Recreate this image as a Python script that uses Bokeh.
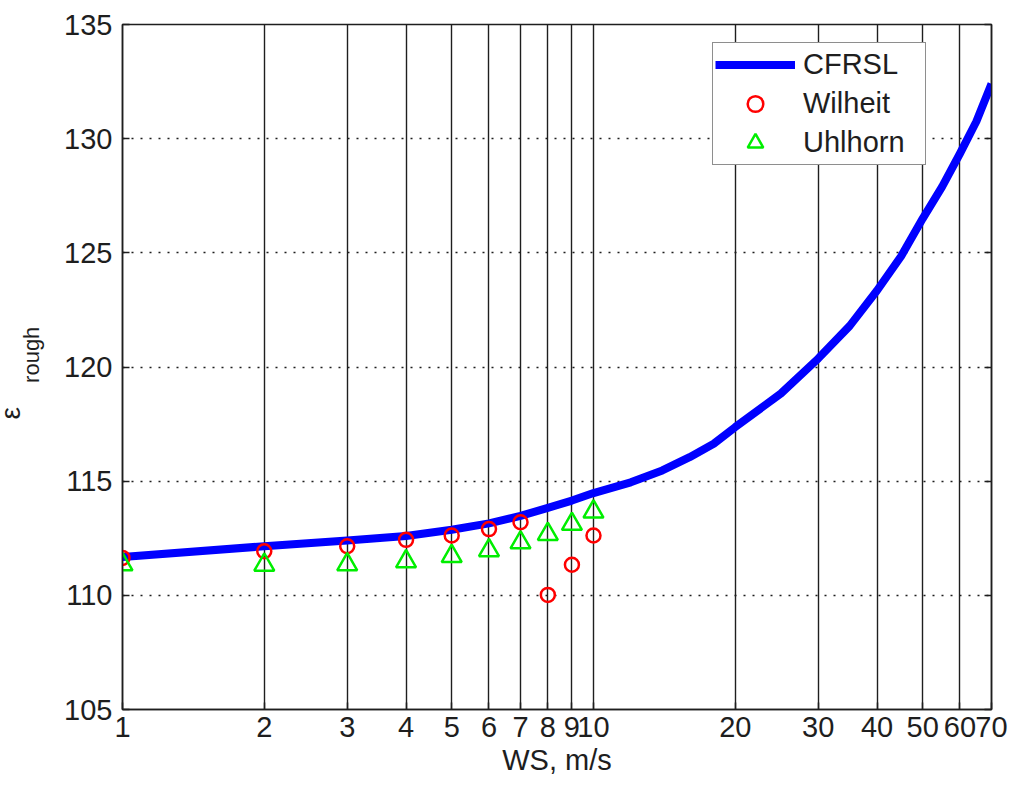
from bokeh.plotting import figure
from bokeh.models import (FixedTicker, LinearAxis, Legend, LegendItem, Title,
                          PrintfTickFormatter)
from bokeh.embed import file_html
from bokeh.resources import INLINE

# CFRSL rough-surface permittivity versus wind speed
ws_curve = [1, 2, 3, 4, 5, 6, 7, 8, 9, 10, 12, 14, 16, 18, 20,
            25, 30, 35, 40, 45, 50, 55, 60, 65, 70]
eps_cfrsl = [111.68, 112.15, 112.40, 112.60, 112.87, 113.15, 113.48, 113.83,
             114.15, 114.48, 114.95, 115.47, 116.05, 116.64, 117.37,
             118.84, 120.37, 121.80, 123.35, 124.85, 126.50, 127.90,
             129.35, 130.75, 132.40]

# Point comparisons at 1..10 m/s
ws_pts = [1, 2, 3, 4, 5, 6, 7, 8, 9, 10]
eps_wilheit = [111.64, 111.93, 112.15, 112.43, 112.62, 112.90, 113.20,
               110.02, 111.34, 112.62]
eps_uhlhorn = [111.35, 111.33, 111.35, 111.48, 111.71, 111.97, 112.31,
               112.68, 113.12, 113.66]

x_ticks = [1, 2, 3, 4, 5, 6, 7, 8, 9, 10, 20, 30, 40, 50, 60, 70]
y_ticks = [105, 110, 115, 120, 125, 130, 135]

FONT = "Liberation Sans"
INK = "#1e1e1e"

p = figure(frame_width=869, frame_height=685,
           x_axis_type="log", x_range=(1, 70), y_range=(105, 135),
           output_backend="svg", toolbar_location=None,
           min_border_left=122, min_border_right=19,
           min_border_top=24, min_border_bottom=80,
           background_fill_color="white", border_fill_color="white")

p.outline_line_color = INK
p.outline_line_width = 1.5

# axes
xa = p.xaxis[0]
xa.ticker = FixedTicker(ticks=x_ticks)
xa.formatter = PrintfTickFormatter(format="%d")
xa.axis_label = "WS, m/s"
ya = p.yaxis[0]
ya.ticker = FixedTicker(ticks=y_ticks)
# subscript part of the y label; leading no-break spaces lift it a little
ya.axis_label = "\u00a0\u00a0\u00a0\u00a0rough"
for ax in (xa, ya):
    ax.major_tick_in = 7
    ax.major_tick_out = 0
    ax.minor_tick_line_color = None
    ax.axis_line_color = INK
    ax.axis_line_width = 1.5
    ax.major_tick_line_color = INK
    ax.major_tick_line_width = 1.5
    ax.major_label_text_font = FONT
    ax.major_label_text_font_size = "29px"
    ax.major_label_text_color = INK
    ax.axis_label_text_font = FONT
    ax.axis_label_text_font_size = "29px"
    ax.axis_label_text_font_style = "normal"
    ax.axis_label_text_color = INK
xa.major_label_standoff = 7
xa.axis_label_standoff = 4
ya.major_label_standoff = 10
ya.axis_label_text_font_size = "22px"
ya.axis_label_standoff = 17

ra = LinearAxis(ticker=FixedTicker(ticks=y_ticks), major_tick_in=7,
                major_tick_out=0, minor_tick_line_color=None,
                axis_line_color=INK, axis_line_width=1.5,
                major_tick_line_color=INK, major_tick_line_width=1.5,
                major_label_text_color=None, major_label_standoff=0)
p.add_layout(ra, "right")

# epsilon, outside the subscript
p.add_layout(Title(text="\u03b5", align="left", offset=290,
                   text_font=FONT, text_font_size="28px",
                   text_font_style="normal", text_color=INK,
                   standoff=-18), "left")

# grid: solid verticals, dotted horizontals
p.xgrid.ticker = FixedTicker(ticks=x_ticks)
p.xgrid.grid_line_color = INK
p.xgrid.grid_line_width = 1.4
p.xgrid.grid_line_alpha = 1.0
p.ygrid.ticker = FixedTicker(ticks=y_ticks)
p.ygrid.grid_line_color = INK
p.ygrid.grid_line_width = 1.5
p.ygrid.grid_line_alpha = 1.0
p.ygrid.grid_line_dash = "2 7"

r_cfrsl = p.line(ws_curve, eps_cfrsl, line_color="#0000ff", line_width=8,
                 line_join="round")
r_wil = p.scatter(ws_pts, eps_wilheit, marker="circle", size=14,
                  fill_color=None, line_color="#ff0000", line_width=2.5)
r_uhl = p.scatter(ws_pts, eps_uhlhorn, marker="triangle", size=20,
                  fill_color=None, line_color="#00ee00", line_width=2.5)

legend = Legend(items=[LegendItem(label="CFRSL", renderers=[r_cfrsl]),
                       LegendItem(label="Wilheit", renderers=[r_wil]),
                       LegendItem(label="Uhlhorn", renderers=[r_uhl])],
                location=(590, 544), orientation="vertical",
                glyph_width=80, glyph_height=39, label_height=39,
                label_width=120, label_standoff=8, spacing=0, padding=2,
                margin=0,
                label_text_font=FONT, label_text_font_size="29px",
                label_text_color=INK,
                border_line_color=INK, border_line_width=1.5,
                background_fill_color="white", background_fill_alpha=1.0)
p.add_layout(legend)

open("out.html", "w").write(file_html(p, INLINE))
